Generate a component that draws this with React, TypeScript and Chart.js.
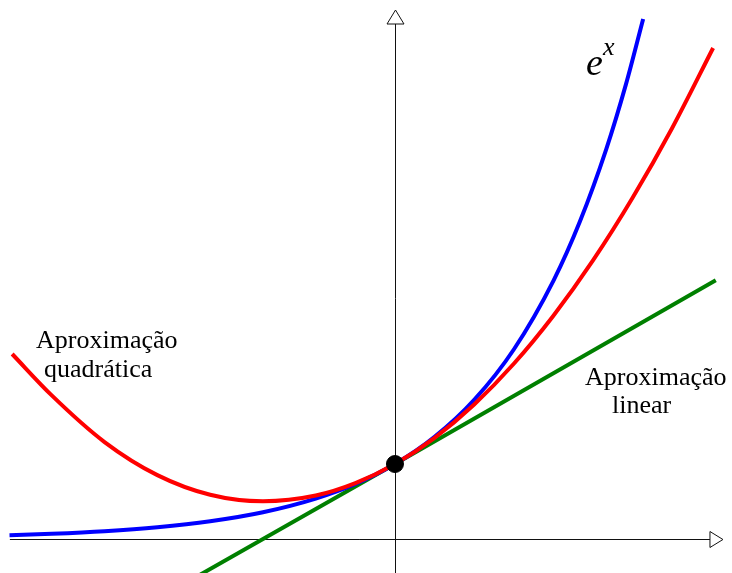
import React, { useEffect, useRef } from "react";
import { Chart, registerables } from "chart.js";

Chart.register(...registerables);

// e^x (blue)
const expX = [-2.92, -2.6, -2.2, -1.8, -1.4, -1.0, -0.6, -0.3, 0, 0.3, 0.6, 0.9, 1.2, 1.4, 1.6, 1.75, 1.88];
const expY = [0.049, 0.069, 0.104, 0.157, 0.237, 0.357, 0.539, 0.734, 1, 1.362, 1.855, 2.527, 3.442, 4.229, 5.196, 6.065, 6.934];

// quadratic approximation (red)
const quadX = [-2.9, -2.6, -2.2, -1.8, -1.4, -1.0, -0.6, -0.3, 0, 0.3, 0.6, 0.9, 1.2, 1.5, 1.8, 2.1, 2.41];
const quadY = [2.467, 1.915, 1.293, 0.852, 0.59, 0.503, 0.58, 0.745, 1, 1.349, 1.794, 2.337, 2.978, 3.715, 4.55, 5.481, 6.547];

// linear approximation (green)
const linX = [-1.5, 0, 2.43];
const linY = [-0.5, 1, 3.45];

// tangent point
const dotX = [0];
const dotY = [1];

// view window and axis extents
const xRange = [-2.992, 2.553];
const yRange = [-0.453, 7.187];
const xAxisSpan = [-2.917, 2.386];
const yAxisSpan = [-0.453, 6.867];

const toPts = (xs: number[], ys: number[]) => xs.map((x, i) => ({ x, y: ys[i] }));

export default function App() {
  const ref = useRef<HTMLCanvasElement>(null);

  useEffect(() => {
    if (!ref.current) return;
    const decor = {
      id: "decor",
      beforeDatasetsDraw(chart: any) {
        const ctx = chart.ctx;
        const xs = chart.scales.x;
        const ys = chart.scales.y;
        const ox = Math.round(xs.getPixelForValue(0)) + 0.5;
        const oy = Math.round(ys.getPixelForValue(0)) + 0.5;
        ctx.save();
        ctx.strokeStyle = "#111";
        ctx.lineWidth = 1;
        ctx.beginPath();
        ctx.moveTo(xs.getPixelForValue(xAxisSpan[0]), oy);
        ctx.lineTo(xs.getPixelForValue(xAxisSpan[1]), oy);
        ctx.moveTo(ox, ys.getPixelForValue(yAxisSpan[0]));
        ctx.lineTo(ox, ys.getPixelForValue(yAxisSpan[1]));
        ctx.stroke();
        // arrowheads
        const xe = xs.getPixelForValue(xAxisSpan[1]);
        ctx.fillStyle = "#fff";
        ctx.beginPath();
        ctx.moveTo(xe, oy - 8);
        ctx.lineTo(xe + 13, oy);
        ctx.lineTo(xe, oy + 8);
        ctx.closePath();
        ctx.fill();
        ctx.stroke();
        const ye = ys.getPixelForValue(yAxisSpan[1]);
        ctx.beginPath();
        ctx.moveTo(ox - 8.5, ye);
        ctx.lineTo(ox, ye - 14);
        ctx.lineTo(ox + 8.5, ye);
        ctx.closePath();
        ctx.fill();
        ctx.stroke();
        ctx.restore();
      },
      afterDatasetsDraw(chart: any) {
        const ctx = chart.ctx;
        ctx.save();
        ctx.fillStyle = "#000";
        ctx.textBaseline = "alphabetic";
        ctx.textAlign = "left";
        ctx.font = '26px "Liberation Serif"';
        ctx.fillText("Aproximação", 36, 348);
        ctx.fillText("quadrática", 44, 377);
        ctx.fillText("Aproximação", 585, 385);
        ctx.fillText("linear", 612, 413);
        ctx.font = 'italic 38px "Liberation Serif"';
        ctx.fillText("e", 586, 75);
        ctx.font = 'italic 26px "Liberation Serif"';
        ctx.fillText("x", 603, 55);
        ctx.restore();
      },
    };

    const chart = new Chart(ref.current, {
      type: "scatter",
      data: {
        datasets: [
          {
            data: toPts(dotX, dotY),
            pointRadius: 8.5,
            pointBackgroundColor: "#000",
            pointBorderColor: "#000",
            showLine: false,
          } as any,
          {
            data: toPts(quadX, quadY),
            borderColor: "#ff0000",
            borderWidth: 4,
            pointRadius: 0,
            showLine: true,
            cubicInterpolationMode: "monotone",
          },
          {
            data: toPts(expX, expY),
            borderColor: "#0000ff",
            borderWidth: 4,
            pointRadius: 0,
            showLine: true,
            cubicInterpolationMode: "monotone",
          },
          {
            data: toPts(linX, linY),
            borderColor: "#008000",
            borderWidth: 4,
            pointRadius: 0,
            showLine: true,
          },
        ],
      },
      options: {
        animation: false,
        responsive: false,
        devicePixelRatio: 1,
        layout: { padding: 0, autoPadding: false },
        plugins: { legend: { display: false }, tooltip: { enabled: false } },
        scales: {
          x: { type: "linear", min: xRange[0], max: xRange[1], display: false },
          y: { type: "linear", min: yRange[0], max: yRange[1], display: false },
        },
      },
      plugins: [decor],
    });
    return () => chart.destroy();
  }, []);

  return (
    <div style={{ position: "absolute", left: 0, top: 0, width: 732, height: 573, background: "#fff" }}>
      <canvas ref={ref} width={732} height={573} style={{ width: 732, height: 573 }} />
    </div>
  );
}
